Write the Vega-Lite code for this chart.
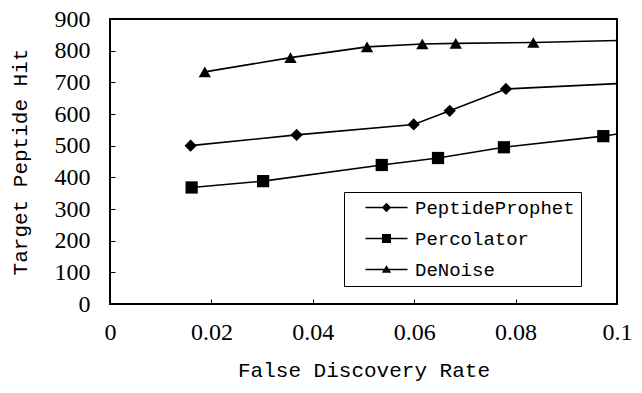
{
  "$schema": "https://vega.github.io/schema/vega-lite/v6.json",
  "width": 507,
  "height": 285,
  "autosize": {"type": "none"},
  "padding": {"left": 110, "top": 19, "right": 25, "bottom": 89},
  "background": "white",
  "config": {
    "view": {"stroke": "black", "strokeWidth": 2},
    "axis": {
      "domain": false,
      "grid": false,
      "tickColor": "black",
      "tickSize": -5,
      "tickWidth": 1,
      "labelColor": "black",
      "labelFont": "Liberation Serif",
      "labelFontSize": 24,
      "titleColor": "black",
      "titleFont": "Liberation Mono",
      "titleFontSize": 21,
      "titleFontWeight": "normal"
    }
  },
  "data": {
    "values": [
      {"series": "PeptideProphet", "fdr": 0.0159, "hit": 500},
      {"series": "PeptideProphet", "fdr": 0.0368, "hit": 534},
      {"series": "PeptideProphet", "fdr": 0.0599, "hit": 567},
      {"series": "PeptideProphet", "fdr": 0.0670, "hit": 610},
      {"series": "PeptideProphet", "fdr": 0.0781, "hit": 679},
      {"series": "PeptideProphet", "fdr": 0.1, "hit": 696},
      {"series": "Percolator", "fdr": 0.0161, "hit": 368},
      {"series": "Percolator", "fdr": 0.0302, "hit": 388},
      {"series": "Percolator", "fdr": 0.0536, "hit": 439},
      {"series": "Percolator", "fdr": 0.0647, "hit": 461},
      {"series": "Percolator", "fdr": 0.0777, "hit": 495},
      {"series": "Percolator", "fdr": 0.0973, "hit": 530},
      {"series": "Percolator", "fdr": 0.1, "hit": 537},
      {"series": "DeNoise", "fdr": 0.0187, "hit": 733},
      {"series": "DeNoise", "fdr": 0.0356, "hit": 778},
      {"series": "DeNoise", "fdr": 0.0507, "hit": 812},
      {"series": "DeNoise", "fdr": 0.0616, "hit": 821},
      {"series": "DeNoise", "fdr": 0.0682, "hit": 823},
      {"series": "DeNoise", "fdr": 0.0835, "hit": 826},
      {"series": "DeNoise", "fdr": 0.1, "hit": 832}
    ]
  },
  "encoding": {
    "x": {
      "field": "fdr",
      "type": "quantitative",
      "scale": {"domain": [0, 0.1], "nice": false, "zero": false},
      "axis": {
        "title": "False Discovery Rate",
        "values": [0, 0.02, 0.04, 0.06, 0.08, 0.1],
        "format": ".2~f",
        "labelFlush": false,
        "labelPadding": 21,
        "labelBaseline": "top",
        "titleX": 253.5,
        "titleY": 72,
        "titleBaseline": "alphabetic"
      }
    },
    "y": {
      "field": "hit",
      "type": "quantitative",
      "scale": {"domain": [0, 900], "nice": false},
      "axis": {
        "title": "Target Peptide Hit",
        "values": [0, 100, 200, 300, 400, 500, 600, 700, 800, 900],
        "labelPadding": 25,
        "titleX": -84,
        "titleY": 142.5,
        "titleAngle": -90,
        "titleBaseline": "alphabetic"
      }
    }
  },
  "resolve": {"scale": {"shape": "independent"}, "legend": {"shape": "independent"}},
  "layer": [
    {
      "mark": {"type": "line", "color": "black", "strokeWidth": 1.6, "clip": true},
      "encoding": {"detail": {"field": "series"}}
    },
    {
      "transform": [{"filter": "datum.fdr < 0.1"}],
      "mark": {"type": "point", "filled": true, "color": "black", "opacity": 1, "size": 150},
      "encoding": {
        "shape": {
          "field": "series",
          "type": "nominal",
          "scale": {
            "domain": ["PeptideProphet", "Percolator", "DeNoise"],
            "range": ["diamond", "square", "triangle-up"]
          },
          "legend": null
        }
      }
    },
    {
      "transform": [{"filter": "datum.fdr < 0.1"}],
      "mark": {"type": "point", "filled": true, "color": "black", "size": 0},
      "encoding": {
        "shape": {
          "field": "series",
          "type": "nominal",
          "scale": {
            "domain": ["PeptideProphet", "Percolator", "DeNoise"],
            "range": [
              "M-3.5,-0.12H3.5V0.12H-3.5ZM0,-0.78L0.78,0L0,0.78L-0.78,0Z",
              "M-3.5,-0.12H3.5V0.12H-3.5ZM-0.75,-0.75H0.75V0.75H-0.75Z",
              "M-3.5,-0.12H3.5V0.12H-3.5ZM-0.78,0.55L0,-0.72L0.78,0.55Z"
            ]
          },
          "legend": {
            "title": null,
            "orient": "none",
            "legendX": 234,
            "legendY": 173,
            "padding": 6,
            "strokeColor": "black",
            "fillColor": "white",
            "rowPadding": 11,
            "symbolSize": 144,
            "symbolOffset": 27,
            "labelOffset": 19,
            "symbolFillColor": "black",
            "symbolStrokeWidth": 0,
            "symbolOpacity": 1,
            "labelFont": "Liberation Mono",
            "labelFontSize": 19,
            "labelColor": "black",
            "labelExpr": "datum.label + '  '"
          }
        }
      }
    }
  ]
}
